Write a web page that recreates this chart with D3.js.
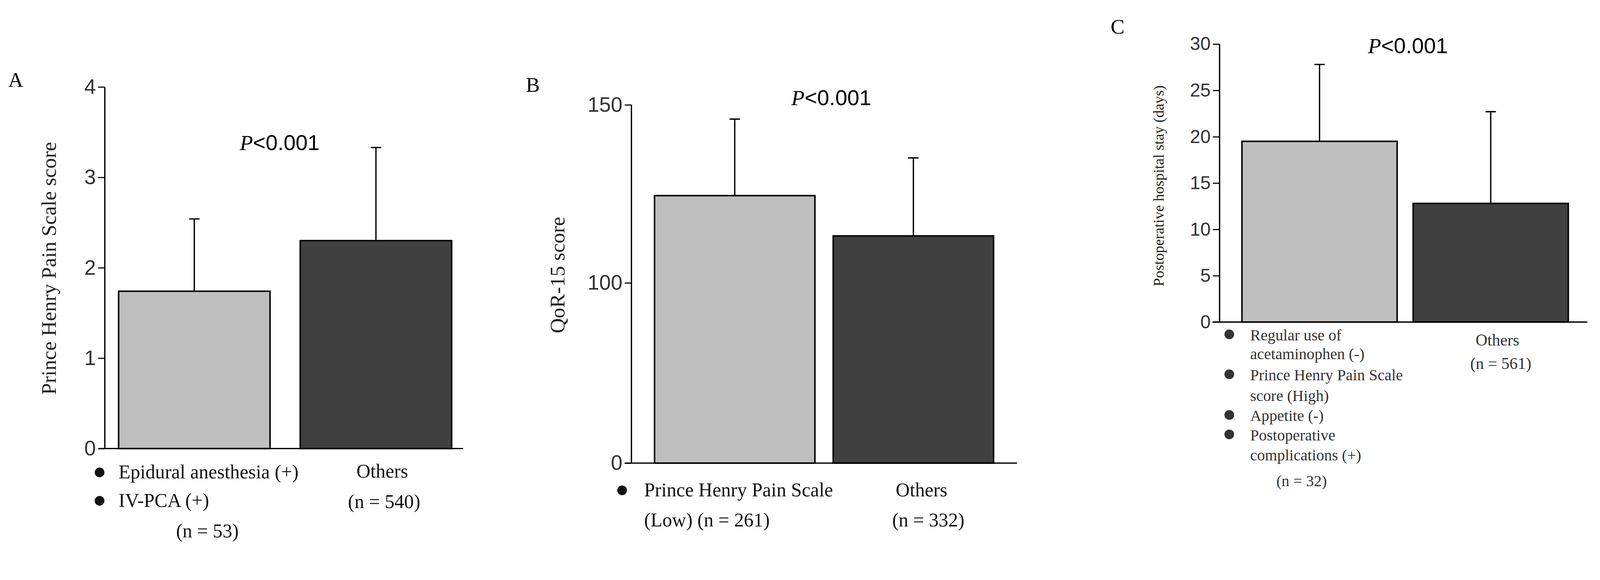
<!DOCTYPE html>
<html><head><meta charset="utf-8">
<script src="https://cdn.jsdelivr.net/npm/d3@7"></script>
<style>
html,body{margin:0;padding:0;background:#fff;overflow:hidden}
svg{display:block;width:100vw;height:100vh}
text{font-family:"Liberation Serif","Times New Roman",serif}
.tick text{font-family:"Liberation Sans",Arial,sans-serif;fill:#333}
</style></head><body>
<svg id="chart" viewBox="0 0 4290 1484" preserveAspectRatio="xMinYMin meet"></svg>
<script>
// data
var groupsA = ['Epidural/IV-PCA (+)', 'Others'],
  meanA = [1.74, 2.30],
  sdA = [0.80, 1.03],
  ticksA = [0, 1, 2, 3, 4]

var groupsB = ['PHPS Low', 'Others'],
  meanB = [124.5, 113.2],
  sdB = [21.5, 21.9],
  ticksB = [0, 100, 150]

var groupsC = ['Risk factors', 'Others'],
  meanC = [19.5, 12.8],
  sdC = [8.3, 9.9],
  ticksC = [0, 5, 10, 15, 20, 25, 30]

var svg = d3.select('#chart'),
  FILLS = ['#bfbfbf', '#404040']

function panel(o) {
  var g = svg.append('g')
  var x = d3.scaleOrdinal().domain(o.groups).range(o.barX)
  var y = o.y

  // bars
  g.selectAll('rect.bar').data(o.mean).enter().append('rect')
    .attr('x', (d, i) => x(o.groups[i]))
    .attr('width', o.barW)
    .attr('y', d => y(d))
    .attr('height', d => y(0) - y(d))
    .attr('fill', (d, i) => FILLS[i])
    .attr('stroke', '#000').attr('stroke-width', 4)

  // error bars (upper only)
  g.selectAll('path.err').data(o.mean).enter().append('path')
    .attr('d', (d, i) => {
      var cx = x(o.groups[i]) + o.barW / 2, t = y(d + o.sd[i])
      return 'M' + cx + ' ' + y(d) + 'V' + t + 'M' + (cx - 14) + ' ' + t + 'H' + (cx + 14)
    })
    .attr('stroke', '#000').attr('stroke-width', 3.5).attr('fill', 'none')

  // axes
  var ax = g.append('g').attr('transform', 'translate(' + o.axisX + ',0)')
    .call(d3.axisLeft(y).tickValues(o.ticks).tickFormat(d3.format('d')).tickSize(18).tickPadding(6))
  ax.select('.domain').remove()
  ax.selectAll('.tick line').attr('stroke-width', 3)
  ax.selectAll('.tick text').attr('font-size', o.tickSize)
  g.append('line').attr('x1', o.axisX).attr('x2', o.axisX)
    .attr('y1', y(o.ticks[o.ticks.length - 1])).attr('y2', y(0))
    .attr('stroke', '#000').attr('stroke-width', 3.5)
  g.append('line').attr('x1', o.xAxis[0]).attr('x2', o.xAxis[1])
    .attr('y1', y(0)).attr('y2', y(0))
    .attr('stroke', '#000').attr('stroke-width', 3.5)

  g.append('text').attr('transform', 'translate(' + o.ylab[0] + ',' + o.ylab[1] + ') rotate(-90)')
    .attr('text-anchor', 'middle').attr('font-size', o.ylabSize).attr('fill', '#222').text(o.ylabel)

  g.append('text').attr('x', o.letter[0]).attr('y', o.letter[1]).attr('font-size', 56).text(o.letterText)

  var p = g.append('text').attr('x', o.p[0]).attr('y', o.p[1]).attr('text-anchor', 'middle').attr('font-size', 58)
  p.append('tspan').attr('font-style', 'italic').text('P')
  p.append('tspan').attr('font-family', '"Liberation Sans",Arial,sans-serif').text('<0.001')
  return g
}

function labels(g, items, col) {
  items.forEach(function(it) {
    if (it.bullet) g.append('circle').attr('cx', it.bx).attr('cy', it.y - 16).attr('r', 13).attr('fill', col)
    g.append('text').attr('x', it.x).attr('y', it.y).attr('text-anchor', it.anchor || 'start')
      .attr('font-size', it.size).attr('fill', col).text(it.t)
  })
}

// A
var gA = panel({
  groups: groupsA, mean: meanA, sd: sdA, ticks: ticksA,
  y: d3.scaleLinear().domain([0, 4]).range([1202, 233]),
  barX: [318, 805], barW: 406, axisX: 281, xAxis: [265, 1242], tickSize: 56,
  ylab: [150, 719], ylabSize: 56, ylabel: 'Prince Henry Pain Scale score',
  letter: [22, 232], letterText: 'A', p: [750, 402]
})
labels(gA, [
  {bullet: true, bx: 267, x: 318, y: 1282, t: 'Epidural anesthesia (+)', size: 52},
  {bullet: true, bx: 267, x: 318, y: 1358, t: 'IV-PCA (+)', size: 52},
  {x: 556, y: 1440, t: '(n = 53)', size: 52, anchor: 'middle'},
  {x: 1025, y: 1280, t: 'Others', size: 52, anchor: 'middle'},
  {x: 1030, y: 1362, t: '(n = 540)', size: 52, anchor: 'middle'}
], '#111')

// B (broken axis: 0 → 100 compressed)
var gB = panel({
  groups: groupsB, mean: meanB, sd: sdB, ticks: ticksB,
  y: d3.scaleLinear().domain([0, 100, 150]).range([1241, 758, 281]),
  barX: [1755, 2234], barW: 430, axisX: 1693, xAxis: [1675, 2727], tickSize: 56,
  ylab: [1513, 737], ylabSize: 56, ylabel: 'QoR-15 score',
  letter: [1410, 246], letterText: 'B', p: [2229, 282]
})
labels(gB, [
  {bullet: true, bx: 1668, x: 1727, y: 1330, t: 'Prince Henry Pain Scale', size: 52},
  {x: 1727, y: 1411, t: '(Low) (n = 261)', size: 52},
  {x: 2471, y: 1330, t: 'Others', size: 52, anchor: 'middle'},
  {x: 2489, y: 1411, t: '(n = 332)', size: 52, anchor: 'middle'}
], '#111')

// C
var gC = panel({
  groups: groupsC, mean: meanC, sd: sdC, ticks: ticksC,
  y: d3.scaleLinear().domain([0, 30]).range([863, 118]),
  barX: [3330, 3789], barW: 416, axisX: 3270, xAxis: [3251, 4256], tickSize: 50,
  ylab: [3120, 498], ylabSize: 40, ylabel: 'Postoperative hospital stay (days)',
  letter: [2978, 90], letterText: 'C', p: [3775, 142]
})
labels(gC, [
  {bullet: true, bx: 3296, x: 3352, y: 912, t: 'Regular use of', size: 42},
  {x: 3352, y: 963, t: 'acetaminophen (-)', size: 42},
  {bullet: true, bx: 3296, x: 3352, y: 1019, t: 'Prince Henry Pain Scale', size: 42},
  {x: 3352, y: 1075, t: 'score (High)', size: 42},
  {bullet: true, bx: 3296, x: 3352, y: 1128, t: 'Appetite (-)', size: 42},
  {bullet: true, bx: 3296, x: 3352, y: 1180, t: 'Postoperative', size: 42},
  {x: 3352, y: 1234, t: 'complications (+)', size: 42},
  {x: 3490, y: 1303, t: '(n = 32)', size: 42, anchor: 'middle'},
  {x: 4015, y: 926, t: 'Others', size: 44, anchor: 'middle'},
  {x: 4024, y: 989, t: '(n = 561)', size: 44, anchor: 'middle'}
], '#333')
</script>
</body></html>
